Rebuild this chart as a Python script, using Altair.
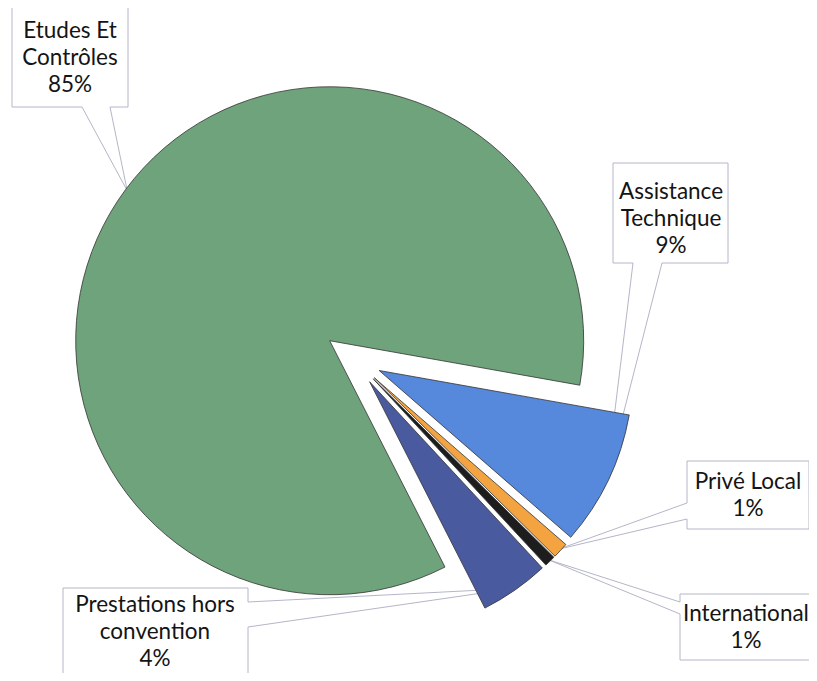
import altair as alt
import numpy as np
import pandas as pd

# ---- data ----
categories = ["Etudes Et Contrôles", "Assistance Technique", "Privé Local",
              "International", "Prestations hors convention"]
values = [85.3, 8.6, 1.0, 0.7, 4.4]
label_texts = ["Etudes Et\nContrôles\n85%", "Assistance\nTechnique\n9%",
               "Privé Local\n1%", "International\n1%",
               "Prestations hors\nconvention\n4%"]
colors = ["#6ea37b", "#5688db", "#f3a33f", "#1d1d1d", "#4a5a9e"]

# ---- layout (chart pixel coordinates) ----
W, H = 801, 665
CX, CY = 345.0, 350.0
R = 254
EXPLODE = 29
START_DEG = 153.0

# label anchors (first line centre)
label_x = [62, 663, 740, 738, 147]
label_y = [23, 184, 474, 606, 597]
# callout boxes: x0, y0, x1, y1, side, attach1, attach2
boxes = [
    (4, -8, 120, 99, "bottom", 74, 102),
    (605, 155, 720, 255, "bottom", 625, 654),
    (679, 453, 801, 521, "left", 495, 511),
    (672, 586, 812, 652, "left", 594, 606),
    (55, 580, 240, 690, "right", 594, 619),
]

total = float(sum(values))
ends = np.cumsum(values)
starts = ends - np.array(values)
a0 = np.deg2rad(START_DEG)
mid = a0 + (starts + ends) / 2.0 / total * 2 * np.pi
cx_i = CX + EXPLODE * np.sin(mid)
cy_i = CY - EXPLODE * np.cos(mid)

pie_df = pd.DataFrame({
    "cat": categories, "start": starts, "end": ends,
    "cx": cx_i, "cy": cy_i,
})

# tips of callouts on the slice edge
tip_r = R - 2
tips = [(cx_i[i] + tip_r * np.sin(mid[i]), cy_i[i] - tip_r * np.cos(mid[i]))
        for i in range(len(categories))]

rows = []
for i, (x0, y0, x1, y1, side, p1, p2) in enumerate(boxes):
    tx, ty = tips[i]
    pts = [(x0, y0), (x1, y0)]
    if side == "right":
        pts += [(x1, p1), (tx, ty), (x1, p2)]
    pts += [(x1, y1)]
    if side == "bottom":
        pts += [(p2, y1), (tx, ty), (p1, y1)]
    pts += [(x0, y1)]
    if side == "left":
        pts += [(x0, p2), (tx, ty), (x0, p1)]
    pts += [(x0, y0)]
    for k, (px, py) in enumerate(pts):
        rows.append({"cid": i, "k": k, "px": px, "py": py})
call_df = pd.DataFrame(rows)

lab_df = pd.DataFrame({"t": label_texts, "lx": label_x, "ly": label_y})

xs = alt.Scale(domain=[0, W], range=[0, W], nice=False, zero=False)
ys = alt.Scale(domain=[0, H], range=[0, H], nice=False, zero=False)

arcs = alt.Chart(pie_df).mark_arc(radius=R, stroke="#333333", strokeWidth=0.8).encode(
    x=alt.X("cx:Q", scale=xs, axis=None),
    y=alt.Y("cy:Q", scale=ys, axis=None),
    theta=alt.Theta("start:Q", stack=None,
                    scale=alt.Scale(domain=[0, total], range=[float(a0), float(a0 + 2 * np.pi)])),
    theta2="end:Q",
    color=alt.Color("cat:N", scale=alt.Scale(domain=categories, range=colors), legend=None),
)

callouts = alt.Chart(call_df).mark_line(color="#b4b6c8", strokeWidth=1).encode(
    x=alt.X("px:Q", scale=xs, axis=None),
    y=alt.Y("py:Q", scale=ys, axis=None),
    detail="cid:N",
    order="k:Q",
)

labels = alt.Chart(lab_df).mark_text(
    font="Lato", fontSize=22.5, lineHeight=27, lineBreak="\n",
    align="center", baseline="middle", color="#141414",
).encode(
    x=alt.X("lx:Q", scale=xs, axis=None),
    y=alt.Y("ly:Q", scale=ys, axis=None),
    text="t:N",
)

chart = alt.layer(callouts, arcs, labels).properties(
    width=W, height=H, autosize="none", padding=0,
).configure_view(stroke=None)

chart.save("out.html", embed_options={"renderer": "svg", "actions": False})
